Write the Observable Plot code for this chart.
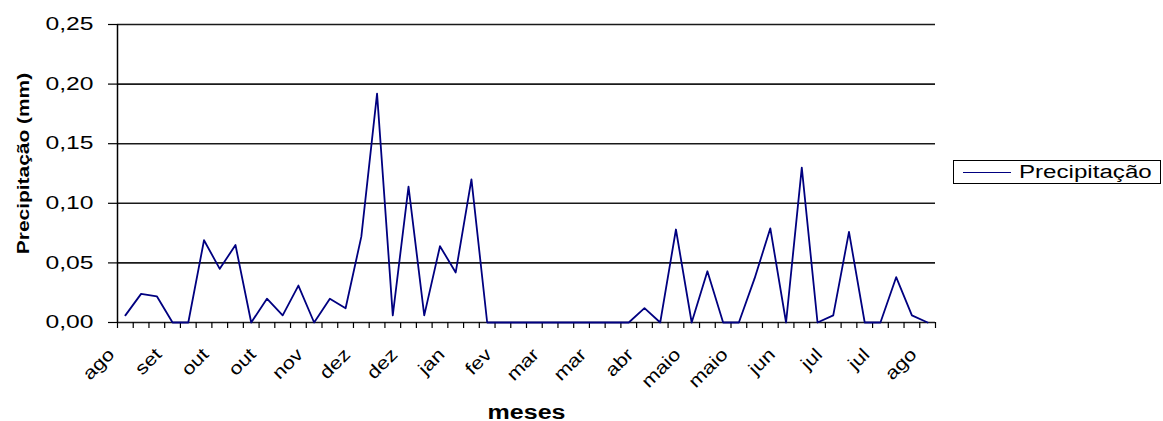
<!DOCTYPE html>
<html><head><meta charset="utf-8">
<script src="https://cdn.jsdelivr.net/npm/d3@7"></script>
<script src="https://cdn.jsdelivr.net/npm/@observablehq/plot@0.6"></script>
<style>
body{margin:0;background:#fff;font-family:Arial,"Liberation Sans",sans-serif;}
#wrap{position:relative;width:1163px;height:421px;overflow:hidden;}
#legend{position:absolute;left:953px;top:160px;width:208px;height:24px;border:1px solid #000;box-sizing:border-box;background:#fff;}
#legend .sw{position:absolute;left:9px;top:11px;width:48px;height:0;border-top:1.8px solid #000080;}
#legend .tx{position:absolute;left:65px;top:1px;font-size:18px;line-height:20px;color:#000;white-space:nowrap;transform:scaleX(1.34);transform-origin:0 0;}
</style></head><body><div id="wrap"></div>
<script>
const categoryLabels = ["ago","set","out","out","nov","dez","dez","jan","fev","mar","mar","abr","maio","maio","jun","jul","jul","ago"];
const labelStep = 3;
const precipitacao = [0.006,0.024,0.022,0,0,0.069,0.045,0.065,0,0.020,0.006,0.031,0,0.020,0.012,0.072,0.192,0.006,0.114,0.006,0.064,0.042,0.120,0,0,0,0,0,0,0,0,0,0,0.012,0,0.078,0,0.043,0,0,0.037,0.079,0,0.130,0,0.006,0.076,0,0,0.038,0.006,0];
const yTicks = [0,0.05,0.10,0.15,0.20,0.25];
const seriesName = "Precipitação";
const yTitle = "Precipitação (mm)";
const xTitle = "meses";

const n = precipitacao.length;
const table = precipitacao.map((v, i) => ({pos: i + 0.5, v}));
const boundaries = d3.range(0, n + 1);
const labelPositions = categoryLabels.map((l, k) => k * labelStep + 0.5);
const fmt = d => d.toFixed(2).replace(".", ",");

const chart = Plot.plot({
  width: 1163,
  height: 421,
  marginLeft: 117,
  marginRight: 228,
  marginTop: 24,
  marginBottom: 99,
  style: {fontFamily: "Arial, 'Liberation Sans', sans-serif", fontSize: "18px", color: "#000", background: "#fff"},
  x: {domain: [0, n], axis: null},
  y: {domain: [0, 0.25], axis: null},
  marks: [
    Plot.ruleY(yTicks, {y: d => d, stroke: "#1a1a1a", strokeWidth: 1.6}),
    Plot.ruleX([0], {stroke: "#000", strokeWidth: 1.5}),
    Plot.axisY(yTicks, {label: null, tickSize: 9, tickPadding: 15, tickFormat: fmt, fontSize: 18, stroke: "#000", strokeWidth: 1.2}),
    Plot.axisX(boundaries, {label: null, tickSize: 6, tickFormat: () => "", stroke: "#000", strokeWidth: 1.2}),
    Plot.axisX(labelPositions, {label: null, tickSize: 0, tickPadding: 29, dx: -14, tickRotate: -45, fontSize: 18, tickFormat: d => categoryLabels[Math.round((d - 0.5) / labelStep)]}),
    Plot.line(table, {x: "pos", y: "v", stroke: "#000080", strokeWidth: 1.8}),
    Plot.text([xTitle], {frameAnchor: "bottom", dy: 96, fontWeight: "bold", fontSize: 20}),
    Plot.text([yTitle], {frameAnchor: "left", textAnchor: "middle", rotate: -90, dx: -94, dy: -10, fontWeight: "bold", fontSize: 17})
  ]
});
const wrap = document.getElementById("wrap");
wrap.appendChild(chart);

function stretchSel(sel, k) {
  sel.each(function () {
    const L = this.getComputedTextLength();
    if (!L) return;
    this.setAttribute("textLength", (L * k).toFixed(1));
    this.setAttribute("lengthAdjust", "spacingAndGlyphs");
  });
}
const svg = d3.select(chart);
stretchSel(svg.selectAll('g[aria-label="y-axis tick label"] text'), 1.37);
stretchSel(svg.selectAll('g[aria-label="x-axis tick label"] text'), 1.2);
stretchSel(svg.selectAll("text").filter(function () { return this.textContent === xTitle; }), 1.25);
stretchSel(svg.selectAll("text").filter(function () { return this.textContent === yTitle; }), 1.23);

const lg = document.createElement("div");
lg.id = "legend";
lg.innerHTML = `<div class="sw"></div><div class="tx"></div>`;
lg.querySelector(".tx").textContent = seriesName;
wrap.appendChild(lg);
</script>
</body></html>
